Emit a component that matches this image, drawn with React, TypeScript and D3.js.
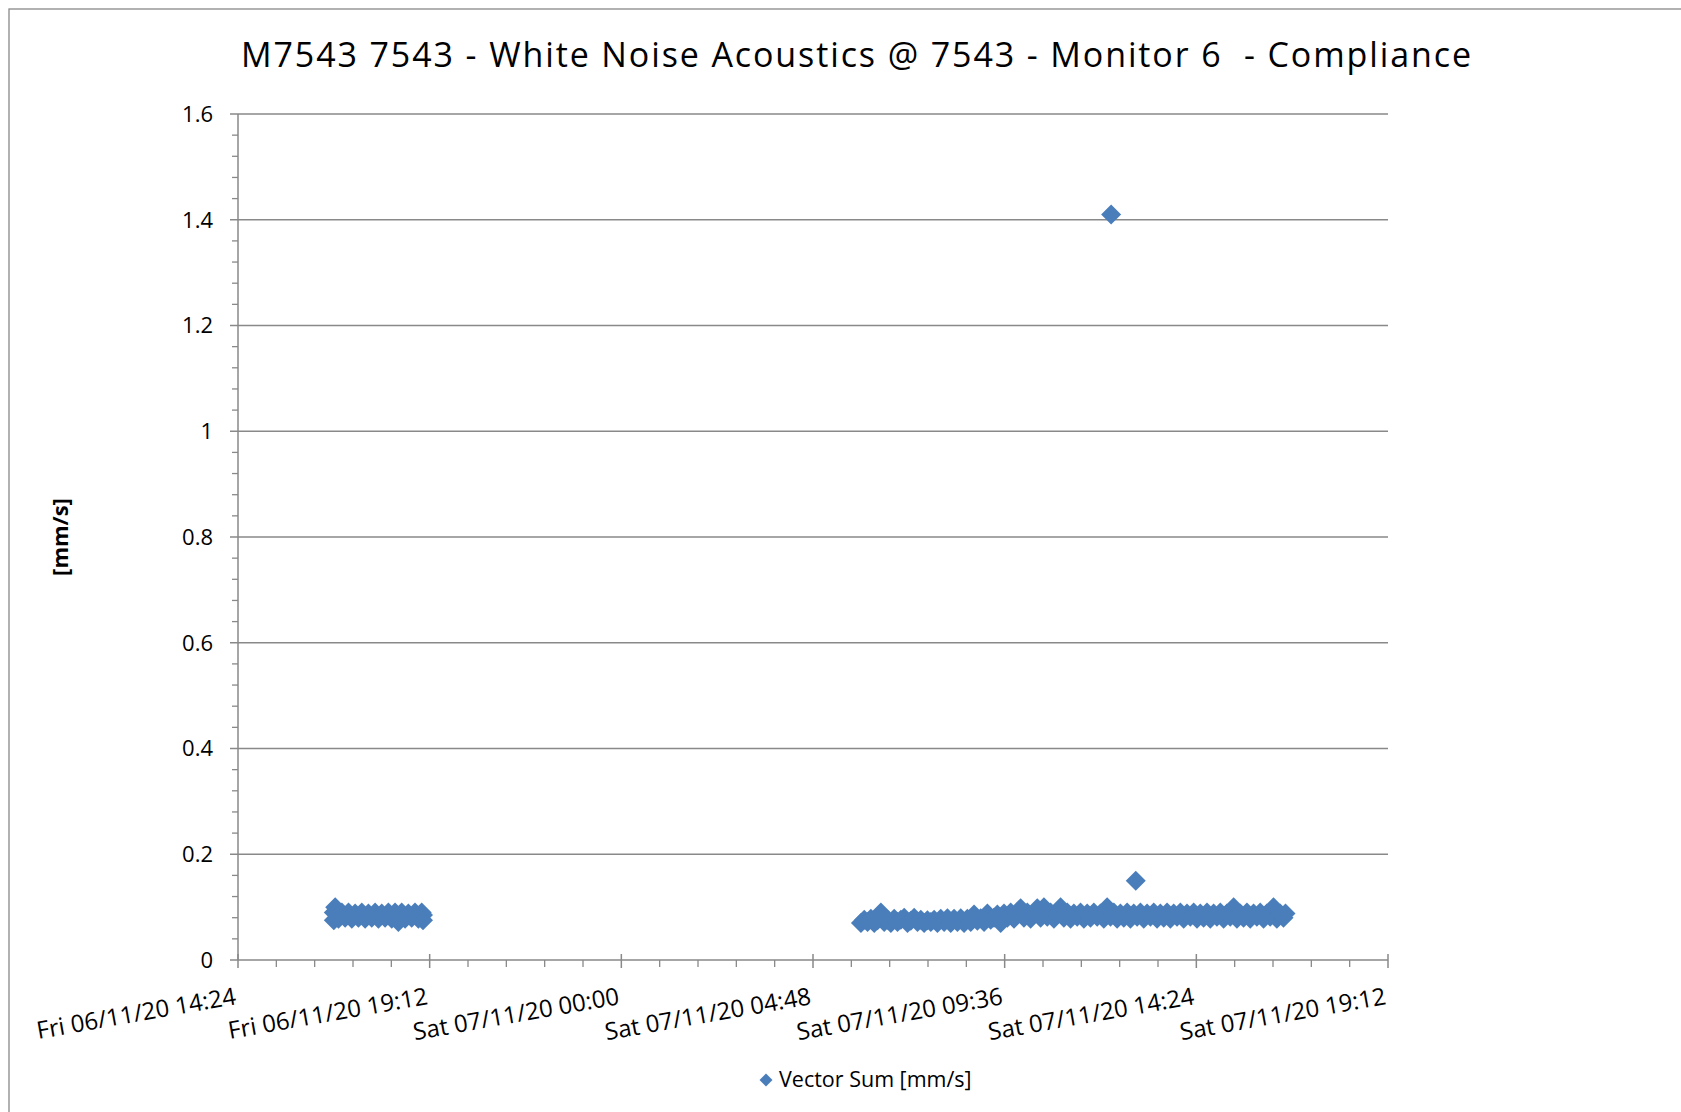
import * as d3 from "d3"

// chart data
const title = "M7543 7543 - White Noise Acoustics @ 7543 - Monitor 6  - Compliance"
const yAxisTitle = "[mm/s]"
const seriesName = "Vector Sum [mm/s]"

const xTickLabels = [
  "Fri 06/11/20 14:24",
  "Fri 06/11/20 19:12",
  "Sat 07/11/20 00:00",
  "Sat 07/11/20 04:48",
  "Sat 07/11/20 09:36",
  "Sat 07/11/20 14:24",
  "Sat 07/11/20 19:12",
]
const yTicks = [0, 0.2, 0.4, 0.6, 0.8, 1, 1.2, 1.4, 1.6]

const friDate = "2020-11-06"
const friTimes = [
  "16:48", "16:48", "16:50", "16:55", "17:00", "17:05", "17:10", "17:15", "17:20", "17:25",
  "17:30", "17:35", "17:40", "17:45", "17:50", "17:55", "18:00", "18:05", "18:10", "18:15",
  "18:20", "18:25", "18:30", "18:35", "18:40", "18:45", "18:50", "18:55", "19:00", "19:02",
  "19:02",
]
const friValues = [
  0.09, 0.075, 0.1, 0.078, 0.09, 0.08, 0.09, 0.078, 0.088, 0.08,
  0.09, 0.078, 0.088, 0.08, 0.09, 0.078, 0.088, 0.08, 0.09, 0.078,
  0.09, 0.072, 0.09, 0.078, 0.088, 0.08, 0.09, 0.078, 0.09, 0.085,
  0.075,
]

const satDate = "2020-11-07"
const satTimes = [
  "06:00", "06:05", "06:10", "06:15", "06:20", "06:25", "06:30", "06:35", "06:40", "06:45", "06:50", "06:55",
  "07:00", "07:05", "07:10", "07:15", "07:20", "07:25", "07:30", "07:35", "07:40", "07:45", "07:50", "07:55",
  "08:00", "08:05", "08:10", "08:15", "08:20", "08:25", "08:30", "08:35", "08:40", "08:45", "08:50", "08:55",
  "09:00", "09:05", "09:10", "09:15", "09:20", "09:25", "09:30", "09:35", "09:40", "09:45", "09:50", "09:55",
  "10:00", "10:05", "10:10", "10:15", "10:20", "10:25", "10:30", "10:35", "10:40", "10:45", "10:50", "10:55",
  "11:00", "11:05", "11:10", "11:15", "11:20", "11:25", "11:30", "11:35", "11:40", "11:45", "11:50", "11:55",
  "12:00", "12:05", "12:10", "12:15", "12:20", "12:25", "12:30", "12:35", "12:40", "12:45", "12:50", "12:55",
  "13:00", "13:05", "13:10", "13:15", "13:20", "13:25", "13:30", "13:35", "13:40", "13:45", "13:50", "13:55",
  "14:00", "14:05", "14:10", "14:15", "14:20", "14:25", "14:30", "14:35", "14:40", "14:45", "14:50", "14:55",
  "15:00", "15:05", "15:10", "15:15", "15:20", "15:25", "15:30", "15:35", "15:40", "15:45", "15:50", "15:55",
  "16:00", "16:05", "16:10", "16:15", "16:20", "16:25", "16:30", "16:35", "16:38",
  "12:16", "12:53",
]
const satValues = [
  0.07, 0.076, 0.072, 0.078, 0.07, 0.075, 0.09, 0.072, 0.076, 0.07, 0.078, 0.072,
  0.076, 0.08, 0.07, 0.074, 0.08, 0.072, 0.076, 0.07, 0.075, 0.072, 0.076, 0.07,
  0.078, 0.072, 0.079, 0.07, 0.078, 0.072, 0.079, 0.07, 0.078, 0.072, 0.086, 0.074,
  0.079, 0.072, 0.088, 0.076, 0.08, 0.086, 0.07, 0.088, 0.08, 0.09, 0.078, 0.088,
  0.098, 0.08, 0.09, 0.078, 0.088, 0.098, 0.08, 0.1, 0.082, 0.09, 0.078, 0.088,
  0.1, 0.08, 0.09, 0.078, 0.088, 0.082, 0.09, 0.078, 0.088, 0.08, 0.09, 0.082,
  0.088, 0.078, 0.1, 0.082, 0.09, 0.078, 0.088, 0.08, 0.09, 0.078, 0.088, 0.082,
  0.09, 0.078, 0.088, 0.082, 0.09, 0.078, 0.088, 0.08, 0.09, 0.078, 0.088, 0.082,
  0.09, 0.078, 0.088, 0.082, 0.09, 0.078, 0.088, 0.08, 0.09, 0.078, 0.088, 0.082,
  0.09, 0.078, 0.088, 0.082, 0.1, 0.078, 0.088, 0.08, 0.09, 0.078, 0.088, 0.082,
  0.09, 0.078, 0.088, 0.082, 0.1, 0.078, 0.088, 0.08, 0.088,
  1.41, 0.15,
]

const W = 1681
const H = 1112
const left = 238
const right = 1388
const top = 114
const bottom = 960

const blue = "#4a7ebb"
const grey = "#898989"
const font = "'Open Sans', 'Noto Sans', sans-serif"

const parseTick = d3.timeParse("%a %d/%m/%y %H:%M")
const parsePoint = d3.timeParse("%Y-%m-%d %H:%M")

export default function App() {
  const tickDates = xTickLabels.map((s) => parseTick(s) as Date)

  const x = d3
    .scaleTime()
    .domain([tickDates[0], tickDates[tickDates.length - 1]])
    .range([left, right])

  const y = d3.scaleLinear().domain([0, 1.6]).range([bottom, top])

  const points = [
    ...friTimes.map((t, i) => ({ t: parsePoint(`${friDate} ${t}`) as Date, v: friValues[i] })),
    ...satTimes.map((t, i) => ({ t: parsePoint(`${satDate} ${t}`) as Date, v: satValues[i] })),
  ]

  const diamond = d3.symbol(d3.symbolSquare, 200)()
  const legendDiamond = d3.symbol(d3.symbolSquare, 84)()

  // minor ticks: 5 intervals between majors on x, 0.04 steps on y
  const xMinor: number[] = []
  for (let i = 0; i < tickDates.length - 1; i++) {
    const a = x(tickDates[i])
    const b = x(tickDates[i + 1])
    for (let k = 1; k < 5; k++) xMinor.push(a + ((b - a) * k) / 5)
  }
  const yMinor = d3
    .range(0, 40)
    .map((i) => i * 0.04)
    .filter((v) => Math.abs(v / 0.2 - Math.round(v / 0.2)) > 0.01)

  return (
    <div style={{ position: "absolute", left: 0, top: 0 }}>
      <svg width={W} height={H} style={{ display: "block", background: "#fff" }}>
        <rect x={9} y={9} width={W + 20} height={H + 20} fill="#fff" stroke={grey} strokeWidth={1.3} />

        <text
          x={856}
          y={67}
          textAnchor="middle"
          fontFamily={font}
          fontSize={34}
          textLength={1230}
          lengthAdjust="spacing"
          fill="#000"
          style={{ whiteSpace: "pre" }}
        >
          {title}
        </text>

        {/* gridlines */}
        {yTicks
          .filter((v) => v > 0)
          .map((v) => (
            <line key={v} x1={left} x2={right} y1={y(v)} y2={y(v)} stroke={grey} strokeWidth={1.5} />
          ))}

        {/* y axis */}
        <line x1={left} x2={left} y1={top} y2={bottom} stroke={grey} strokeWidth={1.5} />
        {yTicks.map((v) => (
          <line key={"t" + v} x1={left - 8} x2={left} y1={y(v)} y2={y(v)} stroke={grey} strokeWidth={1.5} />
        ))}
        {yMinor.map((v) => (
          <line key={"m" + v} x1={left - 6} x2={left} y1={y(v)} y2={y(v)} stroke={grey} strokeWidth={1.3} />
        ))}
        {yTicks.map((v) => (
          <text
            key={"l" + v}
            x={213}
            y={y(v)}
            dy="0.36em"
            textAnchor="end"
            fontFamily={font}
            fontSize={22}
            fill="#000"
          >
            {String(v)}
          </text>
        ))}
        <text
          transform={`translate(68,537) rotate(-90)`}
          textAnchor="middle"
          fontFamily={font}
          fontWeight="bold"
          fontSize={22}
          fill="#000"
        >
          {yAxisTitle}
        </text>

        {/* x axis */}
        <line x1={left} x2={right} y1={bottom} y2={bottom} stroke={grey} strokeWidth={1.5} />
        {tickDates.map((d, i) => (
          <line key={"xt" + i} x1={x(d)} x2={x(d)} y1={bottom - 6} y2={bottom + 8} stroke={grey} strokeWidth={1.5} />
        ))}
        {xMinor.map((p, i) => (
          <line key={"xm" + i} x1={p} x2={p} y1={bottom} y2={bottom + 7} stroke={grey} strokeWidth={1.3} />
        ))}
        {tickDates.map((d, i) => (
          <text
            key={"xl" + i}
            transform={`translate(${x(d) - 1},1004) rotate(-10)`}
            textAnchor="end"
            fontFamily={font}
            fontSize={24}
            fill="#000"
          >
            {xTickLabels[i]}
          </text>
        ))}

        {/* markers */}
        <g fill={blue}>
          {points.map((p, i) => (
            <path key={i} d={diamond!} transform={`translate(${x(p.t)},${y(p.v)}) rotate(45)`} />
          ))}
        </g>

        {/* legend */}
        <path d={legendDiamond!} fill={blue} transform="translate(766,1080) rotate(45)" />
        <text x={779} y={1087} fontFamily={font} fontSize={21.5} fill="#000">
          {seriesName}
        </text>
      </svg>
    </div>
  )
}
